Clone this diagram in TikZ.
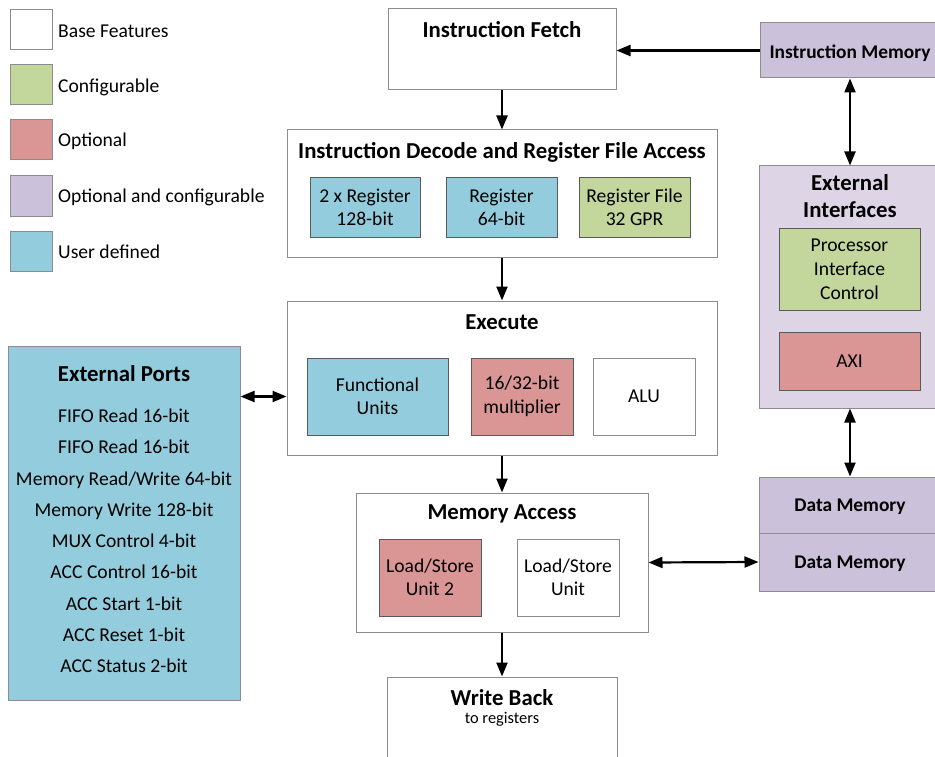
\documentclass[tikz,border=0pt]{standalone}
\usepackage{fontspec}
\setmainfont{Carlito}
\usetikzlibrary{arrows.meta}

\definecolor{cfg}{HTML}{C3D69B}
\definecolor{opt}{HTML}{D99694}
\definecolor{optcfg}{HTML}{CCC1DA}
\definecolor{optcfglight}{HTML}{DDD4E6}
\definecolor{usr}{HTML}{93CDDD}
\definecolor{edge}{HTML}{8C8C8C}
\definecolor{darkedge}{HTML}{5A5A5A}

\tikzset{
  box/.style={draw=edge, line width=1pt, inner sep=0pt, align=center,
    font=\fontsize{19.6}{23.5}\selectfont},
  cbox/.style={box, draw=darkedge},
  ttl/.style={font=\bfseries\fontsize{22.8}{27}\selectfont, align=center, inner sep=0pt},
  smallttl/.style={font=\bfseries\fontsize{19.4}{22}\selectfont, align=center, inner sep=0pt},
  lbl/.style={font=\fontsize{19.6}{22}\selectfont, anchor=west, inner sep=0pt},
  tip/.tip={Triangle[length=14pt,width=11pt]},
  link/.style={line width=2.2pt, -tip},
  dlink/.style={line width=2.2pt, tip-tip},
}

\begin{document}
\begin{tikzpicture}[x=1pt,y=-1pt]
\useasboundingbox (0,0) rectangle (935,757);

% legend
\node[box, fill=white, minimum width=42, minimum height=40] (lgBase) at (31,30) {};
\node[box, fill=cfg, minimum width=42, minimum height=40] (lgCfg) at (31,85) {};
\node[box, fill=opt, minimum width=42, minimum height=40] (lgOpt) at (31,140) {};
\node[box, fill=optcfg, minimum width=42, minimum height=40] (lgOptCfg) at (31,196) {};
\node[box, fill=usr, minimum width=42, minimum height=40] (lgUsr) at (31,251) {};
\node[lbl] (tBase) at (58,31) {Base Features};
\node[lbl] (tCfg) at (58,87) {Configurable};
\node[lbl] (tOpt) at (58,141) {Optional};
\node[lbl] (tOptCfg) at (58,197) {Optional and configurable};
\node[lbl] (tUsr) at (58,252) {User defined};

% pipeline stages
\node[box, minimum width=228, minimum height=81] (IF) at (502,49.5) {};
\node[ttl] (IFt) at (502,30) {Instruction Fetch};

\node[box, minimum width=430, minimum height=127] (ID) at (502,193.5) {};
\node[ttl] (IDt) at (502,152) {Instruction Decode and Register File Access};
\node[cbox, fill=usr, minimum width=110, minimum height=59] (R2) at (365,207.5) {2 x Register\\128-bit};
\node[cbox, fill=usr, minimum width=111, minimum height=59] (R64) at (501.5,207.5) {Register\\64-bit};
\node[cbox, fill=cfg, minimum width=111, minimum height=59] (RF) at (634.5,207.5) {Register File\\32 GPR};

\node[box, minimum width=430, minimum height=154] (EX) at (502,378) {};
\node[ttl] (EXt) at (502,322) {Execute};
\node[cbox, fill=usr, minimum width=141, minimum height=77] (FU) at (377.5,396.5) {Functional\\Units};
\node[cbox, fill=opt, minimum width=102, minimum height=77] (MUL) at (522,396.5) {16/32-bit\\multiplier};
\node[box, minimum width=102, minimum height=77] (ALU) at (644,396.5) {ALU};

\node[box, minimum width=292, minimum height=139] (MA) at (502,562.5) {};
\node[ttl] (MAt) at (502,514) {Memory Access};
\node[cbox, fill=opt, minimum width=102, minimum height=77] (LS2) at (430,577.5) {Load/Store\\Unit 2};
\node[box, minimum width=102, minimum height=77] (LS) at (568,577.5) {Load/Store\\Unit};

\node[box, minimum width=230, minimum height=93] (WB) at (502,723.5) {};
\node[ttl] (WBt) at (502,698) {Write Back};
\node[font=\fontsize{16.4}{18}\selectfont, inner sep=0pt] (WBs) at (502,719) {to registers};

% external ports
\node[box, fill=usr, minimum width=232, minimum height=354] (EP) at (124,523) {};
\node[ttl] (EPt) at (124,374) {External Ports};
\node[font=\fontsize{19.6}{31.25}\selectfont, align=center, inner sep=0pt] (EPl) at (124,541)
  {FIFO Read 16-bit\\FIFO Read 16-bit\\Memory Read/Write 64-bit\\Memory Write 128-bit\\MUX Control 4-bit\\ACC Control 16-bit\\ACC Start 1-bit\\ACC Reset 1-bit\\ACC Status 2-bit};

% memories and interfaces
\node[box, fill=optcfg, minimum width=180, minimum height=55] (IM) at (850,50.5) {};
\node[smallttl] (IMt) at (850,53) {Instruction Memory};

\node[box, fill=optcfglight, minimum width=181, minimum height=242] (EI) at (849.5,287) {};
\node[ttl] (EIt) at (850,196) {External\\Interfaces};
\node[cbox, fill=cfg, minimum width=141, minimum height=82, font=\fontsize{19.6}{24}\selectfont] (PIC) at (849.5,269) {Processor\\Interface\\Control};
\node[cbox, fill=opt, minimum width=141, minimum height=58] (AXI) at (849.5,361) {AXI};

\node[box, fill=optcfg, minimum width=181, minimum height=56] (DM1) at (849.5,505) {};
\node[smallttl] (DM1t) at (850,507) {Data Memory};
\node[box, fill=optcfg, minimum width=181, minimum height=58] (DM2) at (849.5,562) {};
\node[smallttl] (DM2t) at (850,564) {Data Memory};

% connectors
\draw[link] (IM.west) -- (IF.east |- IM.west);
\draw[link] (IF.south) -- (ID.north);
\draw[link] (ID.south) -- (EX.north);
\draw[link] (EX.south) -- (MA.north);
\draw[link] (MA.south) -- (WB.north);
\draw[dlink] (EP.east |- FU) -- (EX.west |- FU);
\draw[dlink] (IM.south) -- (IM.south |- EI.north);
\draw[dlink] (EI.south -| IM.south) -- (DM1.north -| IM.south);
\draw[dlink] (MA.east) -- (DM2.west);
\end{tikzpicture}
\end{document}
